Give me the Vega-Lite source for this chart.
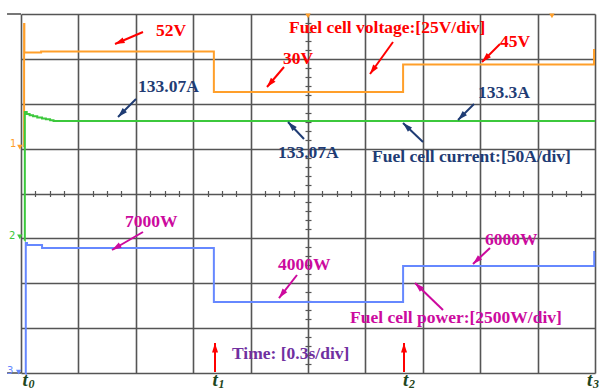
{
  "$schema": "https://vega.github.io/schema/vega-lite/v6.json",
  "width": 574,
  "height": 359,
  "padding": {"left": 21, "top": 14, "right": 4, "bottom": 19},
  "autosize": {"type": "none"},
  "background": "white",
  "config": {
    "view": {"stroke": null},
    "axis": {"labels": false, "title": null, "domain": false, "ticks": false, "grid": false}
  },
  "datasets": {
    "stubs": [
      {"ta": -0.073, "tb": 0, "d": 0},
      {"ta": -0.073, "tb": 0, "d": 8}
    ],
    "voltage": [
      {"t": 0.0157, "v": 0},
      {"t": 0.0162, "v": 67},
      {"t": 0.0175, "v": 51.5},
      {"t": 0.105, "v": 52},
      {"t": 1.008, "v": 30},
      {"t": 1.997, "v": 45},
      {"t": 2.995, "v": 52.8},
      {"t": 3.0, "v": 52.8}
    ],
    "current": [
      {"t": 0.0195, "a": 0},
      {"t": 0.02, "a": 143},
      {"t": 0.03, "a": 141},
      {"t": 0.045, "a": 139.5},
      {"t": 0.063, "a": 138.5},
      {"t": 0.085, "a": 137},
      {"t": 0.11, "a": 136},
      {"t": 0.13, "a": 135},
      {"t": 0.152, "a": 134},
      {"t": 0.17, "a": 133.07},
      {"t": 3.0, "a": 133.07}
    ],
    "power": [
      {"t": 0.0246, "w": 0},
      {"t": 0.025, "w": 7280},
      {"t": 0.0314, "w": 7170},
      {"t": 0.11, "w": 7000},
      {"t": 1.008, "w": 4000},
      {"t": 1.997, "w": 6000},
      {"t": 2.996, "w": 6780},
      {"t": 3.0, "w": 6780}
    ],
    "texts": [
      {"t": 0.7056, "d": 7.621, "label": "52V", "grp": "v"},
      {"t": 1.4007, "d": 7.688, "label": "Fuel cell voltage:[25V/div]", "grp": "v"},
      {"t": 1.369, "d": 6.997, "label": "30V", "grp": "v"},
      {"t": 2.5035, "d": 7.376, "label": "45V", "grp": "v"},
      {"t": 0.6115, "d": 6.373, "label": "133.07A", "grp": "i"},
      {"t": 2.3885, "d": 6.24, "label": "133.3A", "grp": "i"},
      {"t": 1.3432, "d": 4.903, "label": "133.07A", "grp": "i"},
      {"t": 1.8345, "d": 4.813, "label": "Fuel cell current:[50A/div]", "grp": "i"},
      {"t": 0.5436, "d": 3.365, "label": "7000W", "grp": "p"},
      {"t": 1.3432, "d": 2.407, "label": "4000W", "grp": "p"},
      {"t": 2.4251, "d": 2.964, "label": "6000W", "grp": "p"},
      {"t": 1.7195, "d": 1.226, "label": "Fuel cell power:[2500W/div]", "grp": "p"},
      {"t": 1.1028, "d": 0.4234, "label": "Time: [0.3s/div]", "grp": "time"}
    ],
    "arrows": [
      {"t1": 0.6376, "d1": 7.599, "t2": 0.4913, "d2": 7.331, "grp": "v"},
      {"t1": 1.3746, "d1": 6.819, "t2": 1.2857, "d2": 6.373, "grp": "v"},
      {"t1": 1.9443, "d1": 7.376, "t2": 1.8241, "d2": 6.663, "grp": "v"},
      {"t1": 2.5035, "d1": 7.331, "t2": 2.4094, "d2": 6.93, "grp": "v"},
      {"t1": 0.6011, "d1": 6.106, "t2": 0.507, "d2": 5.705, "grp": "i"},
      {"t1": 2.3676, "d1": 5.994, "t2": 2.284, "d2": 5.638, "grp": "i"},
      {"t1": 1.4791, "d1": 5.214, "t2": 1.3955, "d2": 5.593, "grp": "i"},
      {"t1": 2.1011, "d1": 5.148, "t2": 1.9966, "d2": 5.571, "grp": "i"},
      {"t1": 0.6376, "d1": 3.142, "t2": 0.4756, "d2": 2.741, "grp": "p"},
      {"t1": 1.4425, "d1": 2.184, "t2": 1.3484, "d2": 1.671, "grp": "p"},
      {"t1": 2.4512, "d1": 2.786, "t2": 2.3624, "d2": 2.429, "grp": "p"},
      {"t1": 2.2056, "d1": 1.404, "t2": 2.0593, "d2": 2.006, "grp": "p"},
      {"t1": 1.014, "d1": 0.022, "t2": 1.014, "d2": 0.669, "grp": "v"},
      {"t1": 2.0018, "d1": 0.022, "t2": 2.0018, "d2": 0.669, "grp": "v"}
    ],
    "tlabels": [
      {"t": 0.0078, "d": -0.29, "sub": "0", "grp": "tl"},
      {"t": 1.0009, "d": -0.29, "sub": "1", "grp": "tl"},
      {"t": 1.9965, "d": -0.29, "sub": "2", "grp": "tl"},
      {"t": 2.958, "d": -0.29, "sub": "3", "grp": "tl"}
    ],
    "chmarks": [
      {"t": -0.0575, "d": 5.1, "label": "1", "grp": "ch1"},
      {"t": -0.063, "d": 3.05, "label": "2", "grp": "ch2"},
      {"t": -0.073, "d": 0.05, "label": "3", "grp": "ch3"}
    ],
    "chtri": [
      {"t": -0.006, "d": 5.036, "grp": "ch1"},
      {"t": -0.006, "d": 3.031, "grp": "ch2"},
      {"t": -0.012, "d": 0.022, "grp": "ch3"},
      {"t": 1.5, "d": 7.96, "grp": "ch1"},
      {"t": 2.775, "d": 7.96, "grp": "ch1"}
    ]
  },
  "resolve": {"scale": {"y": "independent"}, "axis": {"x": "independent", "y": "independent"}},
  "layer": [
    {
      "data": {"name": "stubs"},
      "mark": {"type": "rule", "color": "#555555", "strokeWidth": 1.6},
      "encoding": {
        "x": {"field": "ta", "type": "quantitative", "scale": {"domain": [0, 3], "nice": false, "zero": false},
              "axis": {"orient": "bottom", "grid": true, "gridColor": "#555555", "gridWidth": 1.6, "gridOpacity": 1,
                       "values": [0, 0.3, 0.6, 0.9, 1.2, 1.5, 1.8, 2.1, 2.4, 2.7, 3.0]}},
        "x2": {"field": "tb"},
        "y": {"field": "d", "type": "quantitative", "scale": {"domain": [0, 8], "nice": false, "zero": false},
              "axis": {"orient": "left", "grid": true, "gridColor": "#555555", "gridWidth": 1.6, "gridOpacity": 1,
                       "values": [0, 1, 2, 3, 4, 5, 6, 7, 8]}}
      }
    },
    {
      "data": {"name": "stubs"},
      "mark": {"type": "rule", "opacity": 0},
      "encoding": {
        "x": {"field": "ta", "type": "quantitative", "scale": {"domain": [0, 3], "nice": false, "zero": false},
              "axis": {"orient": "bottom", "offset": -182.5, "ticks": true, "tickSize": 6, "tickColor": "#555555", "tickWidth": 1.2,
                       "values": [0.075, 0.15, 0.225, 0.375, 0.45, 0.525, 0.675, 0.75, 0.825, 0.975, 1.05, 1.125, 1.275, 1.35, 1.425, 1.575, 1.65, 1.725, 1.875, 1.95, 2.025, 2.175, 2.25, 2.325, 2.475, 2.55, 2.625, 2.775, 2.85, 2.925]}},
        "x2": {"field": "tb"},
        "y": {"field": "d", "type": "quantitative", "scale": {"domain": [0, 8], "nice": false, "zero": false},
              "axis": {"orient": "left", "offset": -290, "ticks": true, "tickSize": 6, "tickColor": "#555555", "tickWidth": 1.2,
                       "values": [0.2, 0.4, 0.6, 0.8, 1.2, 1.4, 1.6, 1.8, 2.2, 2.4, 2.6, 2.8, 3.2, 3.4, 3.6, 3.8, 4.2, 4.4, 4.6, 4.8, 5.2, 5.4, 5.6, 5.8, 6.2, 6.4, 6.6, 6.8, 7.2, 7.4, 7.6, 7.8]}}
      }
    },
    {
      "data": {"name": "voltage"},
      "mark": {"type": "line", "interpolate": "step-after", "color": "#FF9F2A", "strokeWidth": 2},
      "encoding": {
        "x": {"field": "t", "type": "quantitative", "scale": {"domain": [0, 3], "nice": false, "zero": false}, "axis": null},
        "y": {"field": "v", "type": "quantitative", "scale": {"domain": [-122.72, 72.39], "nice": false, "zero": false}, "axis": null}
      }
    },
    {
      "data": {"name": "current"},
      "mark": {"type": "line", "interpolate": "step-after", "color": "#3CC83C", "strokeWidth": 2},
      "encoding": {
        "x": {"field": "t", "type": "quantitative", "scale": {"domain": [0, 3], "nice": false, "zero": false}, "axis": null},
        "y": {"field": "a", "type": "quantitative", "scale": {"domain": [-146.9, 252.0], "nice": false, "zero": false}, "axis": null}
      }
    },
    {
      "data": {"name": "power"},
      "mark": {"type": "line", "interpolate": "step-after", "color": "#6688FF", "strokeWidth": 2},
      "encoding": {
        "x": {"field": "t", "type": "quantitative", "scale": {"domain": [0, 3], "nice": false, "zero": false}, "axis": null},
        "y": {"field": "w", "type": "quantitative", "scale": {"domain": [55.6, 20000], "nice": false, "zero": false}, "axis": null}
      }
    },
    {
      "data": {"name": "arrows"},
      "mark": {"type": "rule", "strokeWidth": 2},
      "encoding": {
        "x": {"field": "t1", "type": "quantitative", "scale": {"domain": [0, 3], "nice": false, "zero": false}, "axis": null},
        "x2": {"field": "t2"},
        "y": {"field": "d1", "type": "quantitative", "scale": {"domain": [0, 8], "nice": false, "zero": false}, "axis": null},
        "y2": {"field": "d2"},
        "color": {"field": "grp", "type": "nominal", "legend": null,
                  "scale": {"domain": ["v", "i", "p", "time", "tl", "ch1", "ch2", "ch3"],
                            "range": ["#FF0000", "#1F3C74", "#CC0A9E", "#7030A0", "#1E4620", "#FF9F2A", "#3CC83C", "#6688FF"]}}
      }
    },
    {
      "data": {"name": "arrows"},
      "transform": [{"calculate": "atan2((datum.t2 - datum.t1) * 191.33, (datum.d2 - datum.d1) * 44.875) * 180 / PI", "as": "ang"}],
      "mark": {"type": "point", "shape": "M0,0L0.75,2.4L-0.75,2.4Z", "filled": true, "opacity": 1, "size": 64, "strokeWidth": 0},
      "encoding": {
        "x": {"field": "t2", "type": "quantitative", "scale": {"domain": [0, 3], "nice": false, "zero": false}, "axis": null},
        "y": {"field": "d2", "type": "quantitative", "scale": {"domain": [0, 8], "nice": false, "zero": false}, "axis": null},
        "angle": {"field": "ang", "type": "quantitative", "scale": null},
        "color": {"field": "grp", "type": "nominal", "legend": null,
                  "scale": {"domain": ["v", "i", "p", "time", "tl", "ch1", "ch2", "ch3"],
                            "range": ["#FF0000", "#1F3C74", "#CC0A9E", "#7030A0", "#1E4620", "#FF9F2A", "#3CC83C", "#6688FF"]}}
      }
    },
    {
      "data": {"name": "texts"},
      "mark": {"type": "text", "font": "Liberation Serif", "fontWeight": "bold", "fontSize": 17.5, "align": "left", "baseline": "middle"},
      "encoding": {
        "x": {"field": "t", "type": "quantitative", "scale": {"domain": [0, 3], "nice": false, "zero": false}, "axis": null},
        "y": {"field": "d", "type": "quantitative", "scale": {"domain": [0, 8], "nice": false, "zero": false}, "axis": null},
        "text": {"field": "label"},
        "color": {"field": "grp", "type": "nominal", "legend": null,
                  "scale": {"domain": ["v", "i", "p", "time", "tl", "ch1", "ch2", "ch3"],
                            "range": ["#FF0000", "#1F3C74", "#CC0A9E", "#7030A0", "#1E4620", "#FF9F2A", "#3CC83C", "#6688FF"]}}
      }
    },
    {
      "data": {"name": "tlabels"},
      "mark": {"type": "text", "text": "t", "font": "Liberation Serif", "fontWeight": "bold", "fontStyle": "italic", "fontSize": 19, "align": "left", "baseline": "alphabetic"},
      "encoding": {
        "x": {"field": "t", "type": "quantitative", "scale": {"domain": [0, 3], "nice": false, "zero": false}, "axis": null},
        "y": {"field": "d", "type": "quantitative", "scale": {"domain": [0, 8], "nice": false, "zero": false}, "axis": null},
        "color": {"field": "grp", "type": "nominal", "legend": null,
                  "scale": {"domain": ["v", "i", "p", "time", "tl", "ch1", "ch2", "ch3"],
                            "range": ["#FF0000", "#1F3C74", "#CC0A9E", "#7030A0", "#1E4620", "#FF9F2A", "#3CC83C", "#6688FF"]}}
      }
    },
    {
      "data": {"name": "tlabels"},
      "mark": {"type": "text", "font": "Liberation Serif", "fontWeight": "bold", "fontStyle": "italic", "fontSize": 12, "align": "left", "baseline": "alphabetic", "dx": 6, "dy": 2},
      "encoding": {
        "x": {"field": "t", "type": "quantitative", "scale": {"domain": [0, 3], "nice": false, "zero": false}, "axis": null},
        "y": {"field": "d", "type": "quantitative", "scale": {"domain": [0, 8], "nice": false, "zero": false}, "axis": null},
        "text": {"field": "sub"},
        "color": {"field": "grp", "type": "nominal", "legend": null,
                  "scale": {"domain": ["v", "i", "p", "time", "tl", "ch1", "ch2", "ch3"],
                            "range": ["#FF0000", "#1F3C74", "#CC0A9E", "#7030A0", "#1E4620", "#FF9F2A", "#3CC83C", "#6688FF"]}}
      }
    },
    {
      "data": {"name": "chmarks"},
      "mark": {"type": "text", "font": "DejaVu Sans", "fontSize": 10, "align": "left", "baseline": "middle"},
      "encoding": {
        "x": {"field": "t", "type": "quantitative", "scale": {"domain": [0, 3], "nice": false, "zero": false}, "axis": null},
        "y": {"field": "d", "type": "quantitative", "scale": {"domain": [0, 8], "nice": false, "zero": false}, "axis": null},
        "text": {"field": "label"},
        "color": {"field": "grp", "type": "nominal", "legend": null,
                  "scale": {"domain": ["v", "i", "p", "time", "tl", "ch1", "ch2", "ch3"],
                            "range": ["#FF0000", "#1F3C74", "#CC0A9E", "#7030A0", "#1E4620", "#FF9F2A", "#3CC83C", "#6688FF"]}}
      }
    },
    {
      "data": {"name": "chtri"},
      "mark": {"type": "point", "shape": "triangle-down", "filled": true, "opacity": 1, "size": 30},
      "encoding": {
        "x": {"field": "t", "type": "quantitative", "scale": {"domain": [0, 3], "nice": false, "zero": false}, "axis": null},
        "y": {"field": "d", "type": "quantitative", "scale": {"domain": [0, 8], "nice": false, "zero": false}, "axis": null},
        "color": {"field": "grp", "type": "nominal", "legend": null,
                  "scale": {"domain": ["v", "i", "p", "time", "tl", "ch1", "ch2", "ch3"],
                            "range": ["#FF0000", "#1F3C74", "#CC0A9E", "#7030A0", "#1E4620", "#FF9F2A", "#3CC83C", "#6688FF"]}}
      }
    }
  ]
}
